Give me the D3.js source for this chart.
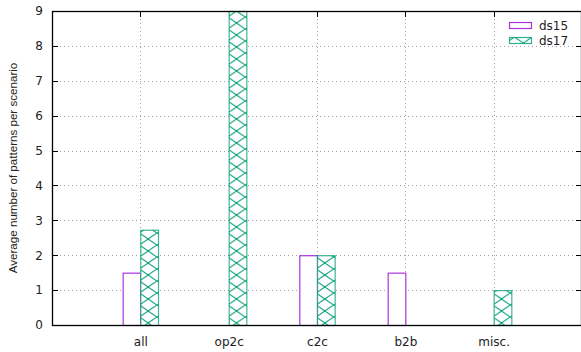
<!DOCTYPE html>
<html>
<head>
<meta charset="utf-8">
<script src="https://cdn.jsdelivr.net/npm/d3@7"></script>
<style>
  body { margin: 0; background: #fff; }
  svg { display: block; font-family: "DejaVu Sans", sans-serif; }
</style>
</head>
<body>
<div id="chart"></div>
<script>
// data
var categories = ["all", "op2c", "c2c", "b2b", "misc."];
var ds15 = [1.5, 0, 2, 1.5, 0];
var ds17 = [2.73, 9, 2, 0, 1];
var yTicks = [0, 1, 2, 3, 4, 5, 6, 7, 8, 9];
var seriesNames = ["ds15", "ds17"];
var seriesColors = ["#9400d3", "#009e73"];

var W = 581, H = 352;
var margin = {top: 11, right: -1, bottom: 27, left: 52};
var width = W - margin.left - margin.right;
var height = H - margin.top - margin.bottom;

var svg = d3.select("#chart").append("svg")
    .attr("width", W)
    .attr("height", H);

var defs = svg.append("defs");

var g = svg.append("g")
    .attr("transform", "translate(" + margin.left + "," + margin.top + ")");

// x is numeric: categories sit at 1..5 on a 0..6 range
var x = d3.scaleLinear().domain([0, categories.length + 1]).range([0, width]);
var y = d3.scaleLinear().domain([0, 9]).range([height, 0]);
var barW = x(0.2) - x(0);

// grid
g.append("g").selectAll("line.hgrid")
    .data(yTicks.filter(function(d) { return d > 0 && d < 9; }))
    .enter().append("line")
    .attr("x1", 0).attr("x2", width)
    .attr("y1", function(d) { return Math.round(y(d)) + 0.5; })
    .attr("y2", function(d) { return Math.round(y(d)) + 0.5; })
    .attr("stroke", "#a0a0a0")
    .attr("stroke-dasharray", "1,3");

g.append("g").selectAll("line.vgrid")
    .data(categories)
    .enter().append("line")
    .attr("x1", function(d, i) { return Math.round(x(i + 1)) + 0.5; })
    .attr("x2", function(d, i) { return Math.round(x(i + 1)) + 0.5; })
    .attr("y1", 0).attr("y2", height)
    .attr("stroke", "#a0a0a0")
    .attr("stroke-dasharray", "1,3");

// inward tick marks (behind the bars)
var ticks = g.append("g").attr("stroke", "#000").attr("stroke-width", 1);
yTicks.forEach(function(t) {
    var yy = Math.round(y(t)) + 0.5;
    ticks.append("line").attr("x1", 0).attr("x2", 6).attr("y1", yy).attr("y2", yy);
    ticks.append("line").attr("x1", width - 6).attr("x2", width).attr("y1", yy).attr("y2", yy);
});
categories.forEach(function(c, i) {
    var xx = Math.round(x(i + 1)) + 0.5;
    ticks.append("line").attr("x1", xx).attr("x2", xx).attr("y1", 0).attr("y2", 6);
    ticks.append("line").attr("x1", xx).attr("x2", xx).attr("y1", height).attr("y2", height - 6);
});

// crosshatch pattern, one per bar so it lines up with the bar edge
function hatch(id, x0, color) {
    var p = defs.append("pattern")
        .attr("id", id)
        .attr("patternUnits", "userSpaceOnUse")
        .attr("x", x0).attr("y", 0)
        .attr("width", barW).attr("height", 12);
    p.append("rect")
        .attr("width", barW).attr("height", 12)
        .attr("fill", "#fff");
    p.append("path")
        .attr("d", "M" + (barW / 2) + ",0L" + barW + ",6L" + (barW / 2) + ",12L0,6Z")
        .attr("fill", "none")
        .attr("stroke", color)
        .attr("stroke-width", 1);
}

// ds15 bars: end at the category position
var bars15 = g.append("g");
ds15.forEach(function(v, i) {
    if (v <= 0) return;
    var x0 = x(i + 1) - barW;
    bars15.append("rect")
        .attr("x", x0 + 0.5)
        .attr("y", y(v) + 0.5)
        .attr("width", barW)
        .attr("height", y(0) - y(v))
        .attr("fill", "#fff")
        .attr("stroke", seriesColors[0])
        .attr("stroke-opacity", 0.8)
        .attr("stroke-width", 1.2);
});

// ds17 bars: start at the category position
var bars17 = g.append("g");
ds17.forEach(function(v, i) {
    if (v <= 0) return;
    var x0 = x(i + 1);
    var id = "hatch" + i;
    hatch(id, x0 + margin.left, seriesColors[1]);
    bars17.append("rect")
        .attr("x", x0 + 0.5)
        .attr("y", y(v) + 0.5)
        .attr("width", barW)
        .attr("height", y(0) - y(v))
        .attr("fill", "url(#" + id + ")")
        .attr("stroke", seriesColors[1])
        .attr("stroke-opacity", 0.75)
        .attr("stroke-width", 1.2);
});

// axes
var yAxis = g.append("g")
    .call(d3.axisLeft(y).tickValues(yTicks).tickSize(0).tickPadding(9));
yAxis.select(".domain").remove();
yAxis.selectAll("text").attr("font-size", 12).attr("fill", "#222")
    .attr("font-family", "DejaVu Sans, sans-serif");

var xAxis = g.append("g")
    .attr("transform", "translate(0," + height + ")")
    .call(d3.axisBottom(x).tickValues(d3.range(1, categories.length + 1))
        .tickFormat(function(d) { return categories[d - 1]; })
        .tickSize(0).tickPadding(12));
xAxis.select(".domain").remove();
xAxis.selectAll("text").attr("font-size", 12).attr("fill", "#222")
    .attr("font-family", "DejaVu Sans, sans-serif");

// frame
g.append("rect")
    .attr("x", 0.5).attr("y", 0.5)
    .attr("width", width - 1).attr("height", height)
    .attr("fill", "none")
    .attr("stroke", "#000")
    .attr("stroke-width", 1.3);

// y label
svg.append("text")
    .attr("transform", "translate(17," + (margin.top + height / 2) + ") rotate(-90)")
    .attr("text-anchor", "middle")
    .attr("font-size", 11.6)
    .attr("fill", "#222")
    .attr("font-family", "Liberation Sans, Arial, sans-serif")
    .text("Average number of patterns per scenario");

// legend
var legend = svg.append("g").attr("transform", "translate(509,0)");
hatch("hatchLegend", 509, seriesColors[1]);
seriesNames.forEach(function(name, i) {
    var row = legend.append("g").attr("transform", "translate(0," + (22 + i * 15) + ")");
    row.append("rect")
        .attr("x", 0.5).attr("y", 0.5)
        .attr("width", 22).attr("height", 6)
        .attr("fill", i === 0 ? "none" : "url(#hatchLegend)")
        .attr("stroke", seriesColors[i])
        .attr("stroke-opacity", 0.8)
        .attr("stroke-width", 1.2);
    row.append("text")
        .attr("x", 30).attr("y", 4)
        .attr("dy", "0.35em")
        .attr("font-size", 12)
        .attr("fill", "#222")
        .text(name);
});
</script>
</body>
</html>
